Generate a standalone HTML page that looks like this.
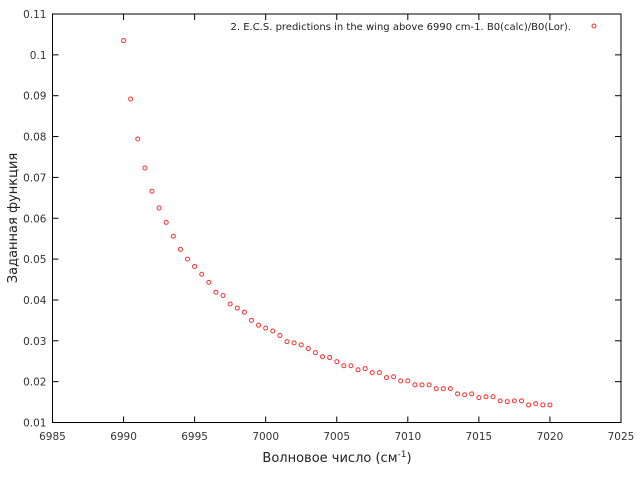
<!DOCTYPE html>
<html><head><meta charset="utf-8"><style>
body{margin:0;background:#fff}
svg{display:block;font-family:"DejaVu Sans","Liberation Sans","Noto Sans CJK SC",sans-serif}
</style></head><body>
<svg id="chart" width="640" height="480" xmlns="http://www.w3.org/2000/svg">
<rect width="640" height="480" fill="#fff"/>
<g id="grid"></g>
<rect x="52.5" y="14" width="568.5" height="408.5" fill="none" stroke="#000" stroke-width="1"/>
<g id="ticks" font-size="10.5" fill="#333"></g>
<text x="17" y="218" font-size="13" fill="#222" text-anchor="middle" transform="rotate(-90 17 218)">Заданная функция</text>
<text x="337" y="462" font-size="13" fill="#222" text-anchor="middle">Волновое число (см<tspan dy="-5" font-size="9">-1</tspan><tspan dy="5">)</tspan></text>
<g>
<text x="571" y="30" font-size="10" fill="#222" text-anchor="end">2. E.C.S. predictions in the wing above 6990 cm-1. B0(calc)/B0(Lor).</text>
<circle cx="594" cy="26" r="2" fill="none" stroke="#f03030" stroke-width="1"/>
</g>
<g id="points"></g>
</svg>
<script>
const xTicks=[6985,6990,6995,7000,7005,7010,7015,7020,7025];
const yTicks=[0.01,0.02,0.03,0.04,0.05,0.06,0.07,0.08,0.09,0.1,0.11];
const yTickLabels=["0.01","0.02","0.03","0.04","0.05","0.06","0.07","0.08","0.09","0.1","0.11"];
const xStart=6990, xStep=0.5;
const values=[0.1035,0.0892,0.0794,0.0723,0.0666,0.0625,0.0590,0.0556,0.0524,0.0500,0.0482,0.0463,0.0443,0.0419,0.0411,0.0390,0.0380,0.0370,0.0350,0.0338,0.0331,0.0324,
0.0313,0.0298,0.0295,0.0290,0.0281,0.0271,0.0261,0.0259,0.0249,0.0239,0.0239,0.0229,0.0232,0.0222,0.0222,0.0210,0.0212,0.0202,0.0202,0.0192,0.0192,0.0192,0.0183,0.0183,0.0183,0.0170,0.0168,0.0170,0.0161,0.0163,0.0163,0.0153,0.0151,0.0153,0.0153,0.0143,0.0146,0.0143,0.0143];
const L=52.5,R=621,T=14,B=422.5;
const X=v=>L+(v-6985)/(7025-6985)*(R-L);
const Y=v=>B-(v-0.01)/(0.11-0.01)*(B-T);
const NS="http://www.w3.org/2000/svg";
const tg=document.getElementById('ticks');
function mk(tag,attrs,parent){const e=document.createElementNS(NS,tag);for(const k in attrs)e.setAttribute(k,attrs[k]);parent.appendChild(e);return e;}
xTicks.forEach(t=>{
  const x=X(t);
  const l1=mk('line',{x1:x,x2:x,y1:B,y2:B-6,stroke:'#000'},tg);
  
  
  const l2=mk('line',{x1:x,x2:x,y1:T,y2:T+6,stroke:'#000'},tg);
  
  
  const tx=mk('text',{x:x,y:440,'text-anchor':'middle'},tg);tx.textContent=String(t);
  
  
});
yTicks.forEach((t,i)=>{
  const y=Y(t);
  const l1=mk('line',{x1:L,x2:L+6,y1:y,y2:y,stroke:'#000'},tg);
  
  
  const l2=mk('line',{x1:R,x2:R-6,y1:y,y2:y,stroke:'#000'},tg);
  
  
  const tx=mk('text',{x:L-6,y:y+4,'text-anchor':'end'},tg);tx.textContent=yTickLabels[i];
  
  
});
const pg=document.getElementById('points');
values.forEach((v,i)=>{
  const c=mk('circle',{cx:X(xStart+i*xStep),cy:Y(v),r:2,fill:'none',stroke:'#f03030','stroke-width':1},pg);
  
  
});
</script>
</body></html>
